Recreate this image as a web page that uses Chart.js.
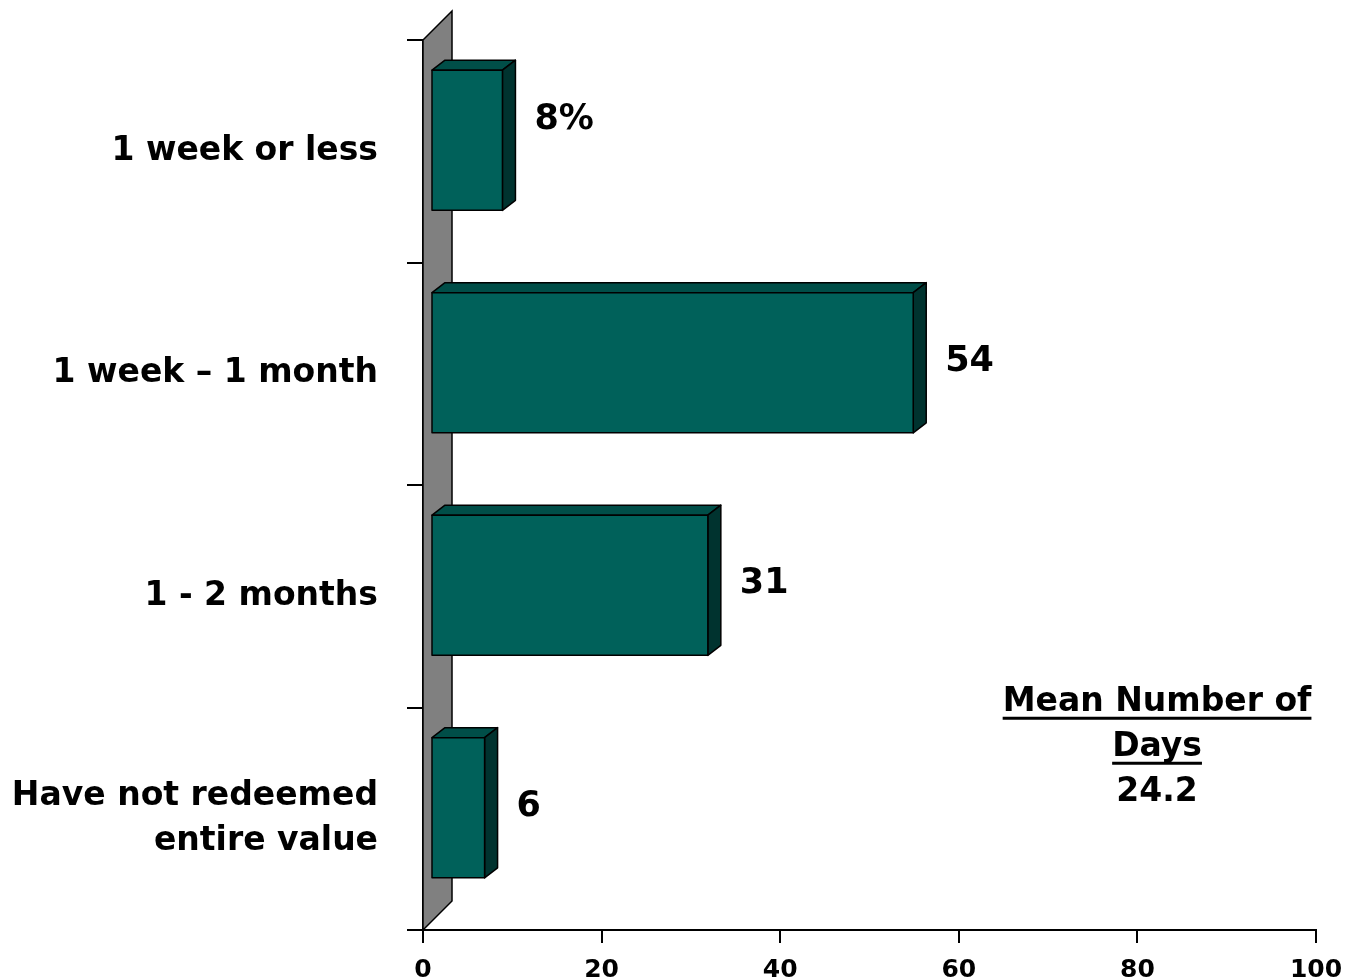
<!DOCTYPE html>
<html>
<head>
<meta charset="utf-8">
<script src="https://cdn.jsdelivr.net/npm/chart.js@4.4.1/dist/chart.umd.min.js"></script>
<style>
  body { margin: 0; background: #fff; }
  #wrap { width: 1346px; height: 980px; position: relative; }
</style>
</head>
<body>
<div id="wrap"><canvas id="myChart"></canvas></div>
<script>
// data
const categorias = [["1 week or less"], ["1 week \u2013 1 month"], ["1 - 2 months"], ["Have not redeemed", "entire value"]];
const valores = [8, 54, 31, 6];
const etiquetas = ["8%", "54", "31", "6"];
const xTicks = [0, 20, 40, 60, 80, 100];
const notaMedia = ["Mean Number of", "Days", "24.2"];

const fuente = "'DejaVu Sans', Verdana, sans-serif";

// 3d look: wall, bar faces, value labels, mean box
const tresD = {
  id: "tresD",
  beforeDatasetsDraw(chart) {
    const ctx = chart.ctx;
    const a = chart.chartArea;
    const x0 = chart.scales.x.getPixelForValue(0);
    ctx.save();
    ctx.fillStyle = "#808080";
    ctx.strokeStyle = "#000";
    ctx.lineWidth = 1.5;
    ctx.beginPath();
    ctx.moveTo(x0, a.top);
    ctx.lineTo(x0 + 29, a.top - 29);
    ctx.lineTo(x0 + 29, a.bottom - 29);
    ctx.lineTo(x0, a.bottom);
    ctx.closePath();
    ctx.fill();
    ctx.stroke();
    ctx.restore();
  },
  beforeDatasetDraw(chart, args) {
    const ctx = chart.ctx;
    const meta = chart.getDatasetMeta(args.index);
    const dx = 8, dy = -11, px = 13, py = -10;
    ctx.save();
    ctx.strokeStyle = "#000";
    ctx.lineWidth = 1.5;
    ctx.lineJoin = "round";
    meta.data.forEach((bar) => {
      const l = bar.base + dx;
      const r = bar.x + dx;
      const t = bar.y - bar.height / 2 + dy;
      const b = bar.y + bar.height / 2 + dy;
      // top
      ctx.fillStyle = "#004E48";
      ctx.beginPath();
      ctx.moveTo(l, t);
      ctx.lineTo(l + px, t + py);
      ctx.lineTo(r + px, t + py);
      ctx.lineTo(r, t);
      ctx.closePath();
      ctx.fill();
      ctx.stroke();
      // side
      ctx.fillStyle = "#00332F";
      ctx.beginPath();
      ctx.moveTo(r, t);
      ctx.lineTo(r + px, t + py);
      ctx.lineTo(r + px, b + py);
      ctx.lineTo(r, b);
      ctx.closePath();
      ctx.fill();
      ctx.stroke();
      // front
      ctx.fillStyle = "#00615A";
      ctx.fillRect(l, t, r - l, b - t);
      ctx.strokeRect(l, t, r - l, b - t);
    });
    ctx.restore();
    return false;
  },
  afterDatasetsDraw(chart) {
    const ctx = chart.ctx;
    const meta = chart.getDatasetMeta(0);
    ctx.save();
    ctx.fillStyle = "#000";
    ctx.font = "bold 35px " + fuente;
    ctx.textBaseline = "middle";
    ctx.textAlign = "left";
    meta.data.forEach((bar, i) => {
      const dy = i === 0 ? -31 : -12;
      ctx.fillText(etiquetas[i], bar.x + 8 + 13 + 19, bar.y + dy);
    });

    // mean box
    const cx = chart.scales.x.getPixelForValue(82.2);
    const y0 = chart.scales.y.getPixelForValue(3) - 116;
    ctx.textAlign = "center";
    ctx.font = "bold 33px " + fuente;
    notaMedia.forEach((t, i) => {
      const y = y0 + i * 45;
      ctx.fillText(t, cx, y);
      if (i < 2) {
        const w = ctx.measureText(t).width;
        ctx.fillRect(cx - w / 2, y + 14, w, 3);
      }
    });
    ctx.restore();
  },
};

const ctx = document.getElementById("myChart").getContext("2d");
const myChart = new Chart(ctx, {
  type: "bar",
  data: {
    labels: categorias,
    datasets: [
      {
        data: valores,
        backgroundColor: "#00615A",
        borderColor: "#000",
        borderWidth: 1,
        categoryPercentage: 1,
        barPercentage: 0.63,
      },
    ],
  },
  options: {
    indexAxis: "y",
    responsive: true,
    maintainAspectRatio: false,
    animation: false,
    layout: { padding: { top: 40, right: 30, left: 0, bottom: 0 } },
    plugins: {
      legend: { display: false },
      tooltip: { enabled: false },
    },
    scales: {
      x: {
        min: 0,
        max: 100,
        afterBuildTicks: (s) => {
          s.ticks = xTicks.map((v) => ({ value: v }));
        },
        afterFit: (s) => {
          s.height = 50;
          s.paddingLeft = 0;
          s.paddingRight = 0;
        },
        border: { color: "#000", width: 2 },
        grid: { drawOnChartArea: false, drawTicks: true, tickLength: 13, color: "#000", lineWidth: 2 },
        ticks: {
          color: "#000",
          padding: 12,
          maxRotation: 0,
          font: { family: fuente, size: 25, weight: "bold" },
        },
      },
      y: {
        afterFit: (s) => {
          s.width = 423;
          s.paddingTop = 0;
          s.paddingBottom = 0;
        },
        border: { color: "#000", width: 2 },
        grid: { offset: true, drawOnChartArea: false, drawTicks: true, tickLength: 16, color: "#000", lineWidth: 2 },
        ticks: {
          color: "#000",
          padding: 29,
          font: { family: fuente, size: 33, weight: "bold", lineHeight: 1.36 },
        },
      },
    },
  },
  plugins: [tresD],
});
</script>
</body>
</html>
